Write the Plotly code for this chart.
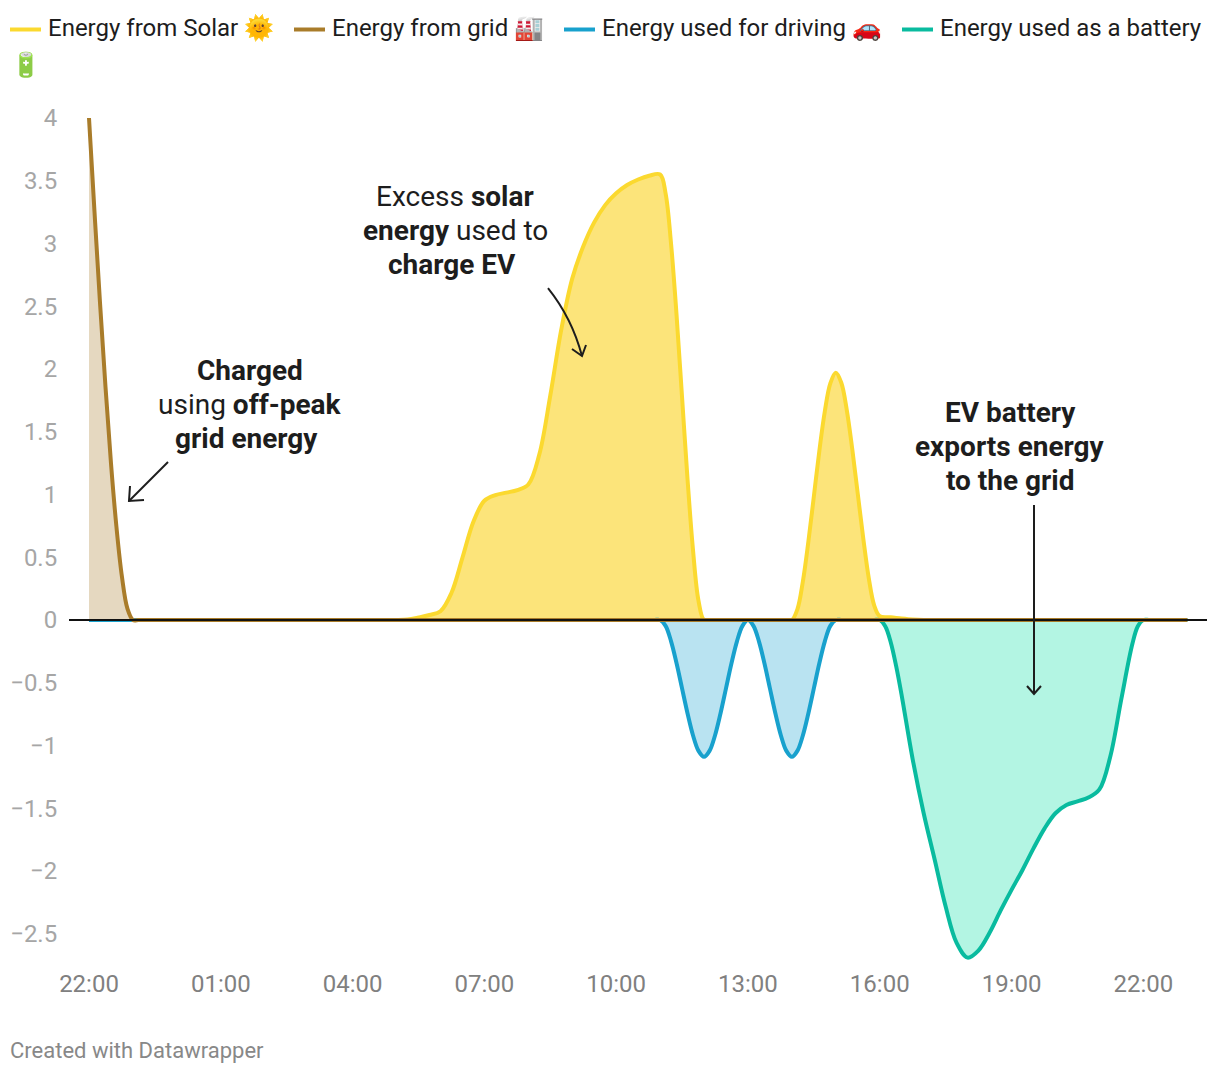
import plotly.graph_objects as go

# ---- data (hours counted from 22:00) ----
tick_hours = [0, 3, 6, 9, 12, 15, 18, 21, 24]
tick_labels = ["22:00", "01:00", "04:00", "07:00", "10:00", "13:00", "16:00", "19:00", "22:00"]
y_ticks = [-2.5, -2, -1.5, -1, -0.5, 0, 0.5, 1, 1.5, 2, 2.5, 3, 3.5, 4]

solar_hours = [0, 6, 6.5, 6.75, 7, 7.25, 7.5, 7.75, 8, 8.25, 8.5, 8.75, 9, 9.25, 9.5, 9.75, 10,
               10.25, 10.5, 10.75, 11, 11.25, 11.5, 11.75, 12, 12.25, 12.5, 12.75, 13,
               13.125, 13.25, 13.375, 13.5, 13.625, 13.75, 13.875, 14, 14.125, 14.25, 14.5, 15, 15.5, 15.75, 15.875, 16,
               16.125, 16.25, 16.375, 16.5, 16.625, 16.75, 16.875, 17,
               17.125, 17.25, 17.375, 17.5, 17.625, 17.75, 17.875, 18,
               18.25, 18.5, 18.75, 19, 19.25, 19.5, 20, 25]
solar_kwh = [0, 0, 0, 0, 0, 0.004, 0.02, 0.04, 0.07, 0.215, 0.495, 0.783, 0.95, 0.995, 1.015, 1.035, 1.08,
             1.318, 1.788, 2.313, 2.72, 2.976, 3.168, 3.306, 3.4, 3.466, 3.51, 3.54, 3.55,
             3.40, 2.996, 2.43, 1.775, 1.12, 0.554, 0.152, 0, 0, 0, 0, 0, 0, 0, 0, 0,
             0.085, 0.307, 0.623, 0.985, 1.347, 1.663, 1.885, 1.97,
             1.89, 1.673, 1.36, 1.005, 0.65, 0.334, 0.115, 0.03,
             0.022, 0.012, 0.004, 0, 0, 0, 0, 0]

grid_hours = [0, 0.125, 0.25, 0.375, 0.5, 0.625, 0.75, 0.875, 1, 1.125, 1.25, 1.5, 25]
grid_kwh = [4, 3.254, 2.53, 1.86, 1.25, 0.74, 0.344, 0.09, 0, 0, 0, 0, 0]

driving_hours = [0, 12.5, 12.75, 12.875, 13, 13.125, 13.25, 13.375, 13.5, 13.625, 13.75, 13.875, 14,
                 14.125, 14.25, 14.375, 14.5, 14.625, 14.75, 14.875, 15,
                 15.125, 15.25, 15.375, 15.5, 15.625, 15.75, 15.875, 16,
                 16.125, 16.25, 16.375, 16.5, 16.625, 16.75, 16.875, 17, 17.125, 17.25, 17.5, 25]
driving_kwh = [0, 0, 0, 0, 0, -0.047, -0.17, -0.345, -0.545, -0.745, -0.92, -1.043, -1.09,
               -1.043, -0.92, -0.745, -0.545, -0.345, -0.17, -0.047, 0,
               -0.047, -0.17, -0.345, -0.545, -0.745, -0.92, -1.043, -1.09,
               -1.043, -0.92, -0.745, -0.545, -0.345, -0.17, -0.047, 0, 0, 0, 0, 0]

battery_hours = [0, 17.5, 17.75, 17.875, 18, 18.125, 18.25, 18.375, 18.5, 18.75, 19, 19.25, 19.5, 19.75, 20, 20.25, 20.5, 20.75, 21,
                 21.25, 21.5, 21.75, 22, 22.25, 22.5, 22.75, 23, 23.25, 23.5, 23.75, 23.875, 24, 24.125, 24.25, 24.5, 25]
battery_kwh = [0, 0, 0, 0, 0, -0.05, -0.177, -0.37, -0.602, -1.11, -1.54, -1.909, -2.283, -2.573, -2.69, -2.632, -2.492, -2.316, -2.15,
               -1.992, -1.82, -1.662, -1.54, -1.474, -1.445, -1.415, -1.35, -1.085, -0.628, -0.192, -0.05, 0, 0, 0, 0, 0]

# ---- sizes (page pixels; the page body adds 8px round the figure) ----
PAGE = 8
W, H = 1220 - 2 * PAGE, 1074 - 2 * PAGE
LEFT, RIGHT, TOP, BOTTOM = 69, 1207, 100, 962
FONT = "Roboto"
INK = "#1d1d1d"


def px_x(v):
    return (v - LEFT) / (RIGHT - LEFT)


def px_y(v):
    return (BOTTOM - v) / (BOTTOM - TOP)


def path(*cmds):
    out = []
    for c in cmds:
        if isinstance(c, str):
            out.append(c)
        else:
            out.append(f"{px_x(c[0]):.5f},{px_y(c[1]):.5f}")
    return " ".join(out)


fig = go.Figure()

series = [
    ("Energy from Solar", solar_hours, solar_kwh, "#fbd92f", "#fce47a"),
    ("Energy used as a battery", battery_hours, battery_kwh, "#09bb9f", "#b3f5e3"),
    ("Energy used for driving", driving_hours, driving_kwh, "#18a1cd", "#b9e3f1"),
    ("Energy from grid", grid_hours, grid_kwh, "#a97c2a", "#e5d8c0"),
]
for name, xs, ys, line_col, fill_col in series:
    fig.add_trace(go.Scatter(x=xs, y=ys, name=name, mode="lines", fill="tozeroy", fillcolor=fill_col,
                             line=dict(color=line_col, width=4, shape="spline", smoothing=1),
                             showlegend=False))

shapes = []
# zero line on top of the series
shapes.append(dict(type="line", xref="paper", yref="y", x0=0, x1=1, y0=0, y1=0, line=dict(color="#111111", width=2)))

# annotation arrows
arrow = dict(type="path", xref="paper", yref="paper", line=dict(color=INK, width=2))
shapes.append(dict(arrow, path=path("M", (168, 462), "L", (129, 501))))
shapes.append(dict(arrow, path=path("M", (130, 486), "L", (129, 501), "L", (144, 500))))
shapes.append(dict(arrow, path=path("M", (548, 288), "Q", (572, 318), (582, 356))))
shapes.append(dict(arrow, path=path("M", (572, 349), "L", (582, 356), "L", (586, 345))))
shapes.append(dict(arrow, path=path("M", (1034, 505), "L", (1034, 694))))
shapes.append(dict(arrow, path=path("M", (1027, 686), "L", (1034, 694), "L", (1041, 686))))

# legend swatches
for x0, col in [(10, "#fbd92f"), (294, "#a97c2a"), (564, "#18a1cd"), (902, "#09bb9f")]:
    shapes.append(dict(type="line", xref="paper", yref="paper", x0=px_x(x0), x1=px_x(x0 + 31),
                       y0=px_y(29.5), y1=px_y(29.5), line=dict(color=col, width=4)))

notes = []


def note(x, y, text, size, color=INK, anchor="center"):
    notes.append(dict(xref="paper", yref="paper", x=px_x(x), y=px_y(y), text=text, showarrow=False,
                      xanchor=anchor, yanchor="middle", align=anchor,
                      font=dict(family=FONT, size=size, color=color)))


note(46, 28, "Energy from Solar 🌞", 24, anchor="left")
note(330, 28, "Energy from grid 🏭", 24, anchor="left")
note(600, 28, "Energy used for driving 🚗", 24, anchor="left")
note(938, 28, "Energy used as a battery", 24, anchor="left")
note(9, 65, "🔋", 24, anchor="left")

note(455, 196.5, "Excess <b>solar</b>", 28)
note(455, 230.5, "<b>energy</b> used to", 28)
note(451.5, 264.5, "<b>charge EV</b>", 28)
note(249.5, 370.5, "<b>Charged</b>", 28)
note(250, 404.5, "using <b>off-peak</b>", 28)
note(246.5, 438.5, "<b>grid energy</b>", 28)
note(1010, 412.5, "<b>EV battery</b>", 28)
note(1010, 446.5, "<b>exports energy</b>", 28)
note(1010, 480.5, "<b>to the grid</b>", 28)
note(8, 1050.5, "Created with Datawrapper", 22, color="#888888", anchor="left")

fig.update_layout(
    width=W, height=H,
    margin=dict(l=LEFT - PAGE, r=W - (RIGHT - PAGE), t=TOP - PAGE, b=H - (BOTTOM - PAGE), pad=0, autoexpand=False),
    paper_bgcolor="white", plot_bgcolor="white",
    font=dict(family=FONT),
    showlegend=False,
    shapes=shapes,
    annotations=notes,
    xaxis=dict(range=[(LEFT - 89) / 43.93, (RIGHT - 89) / 43.93], tickmode="array",
               tickvals=tick_hours, ticktext=tick_labels, showgrid=False, zeroline=False, showline=False,
               ticks="", ticklabelstandoff=5,
               tickfont=dict(family=FONT, size=24, color="#808080")),
    yaxis=dict(range=[(620 - BOTTOM) / 125.5, (620 - TOP) / 125.5], tickmode="array",
               tickvals=y_ticks, showgrid=False, zeroline=False, showline=False,
               ticks="outside", ticklen=6, tickcolor="rgba(0,0,0,0)",
               tickfont=dict(family=FONT, size=24, color="#a6a6a6")),
)

fig.write_html("out.html")
